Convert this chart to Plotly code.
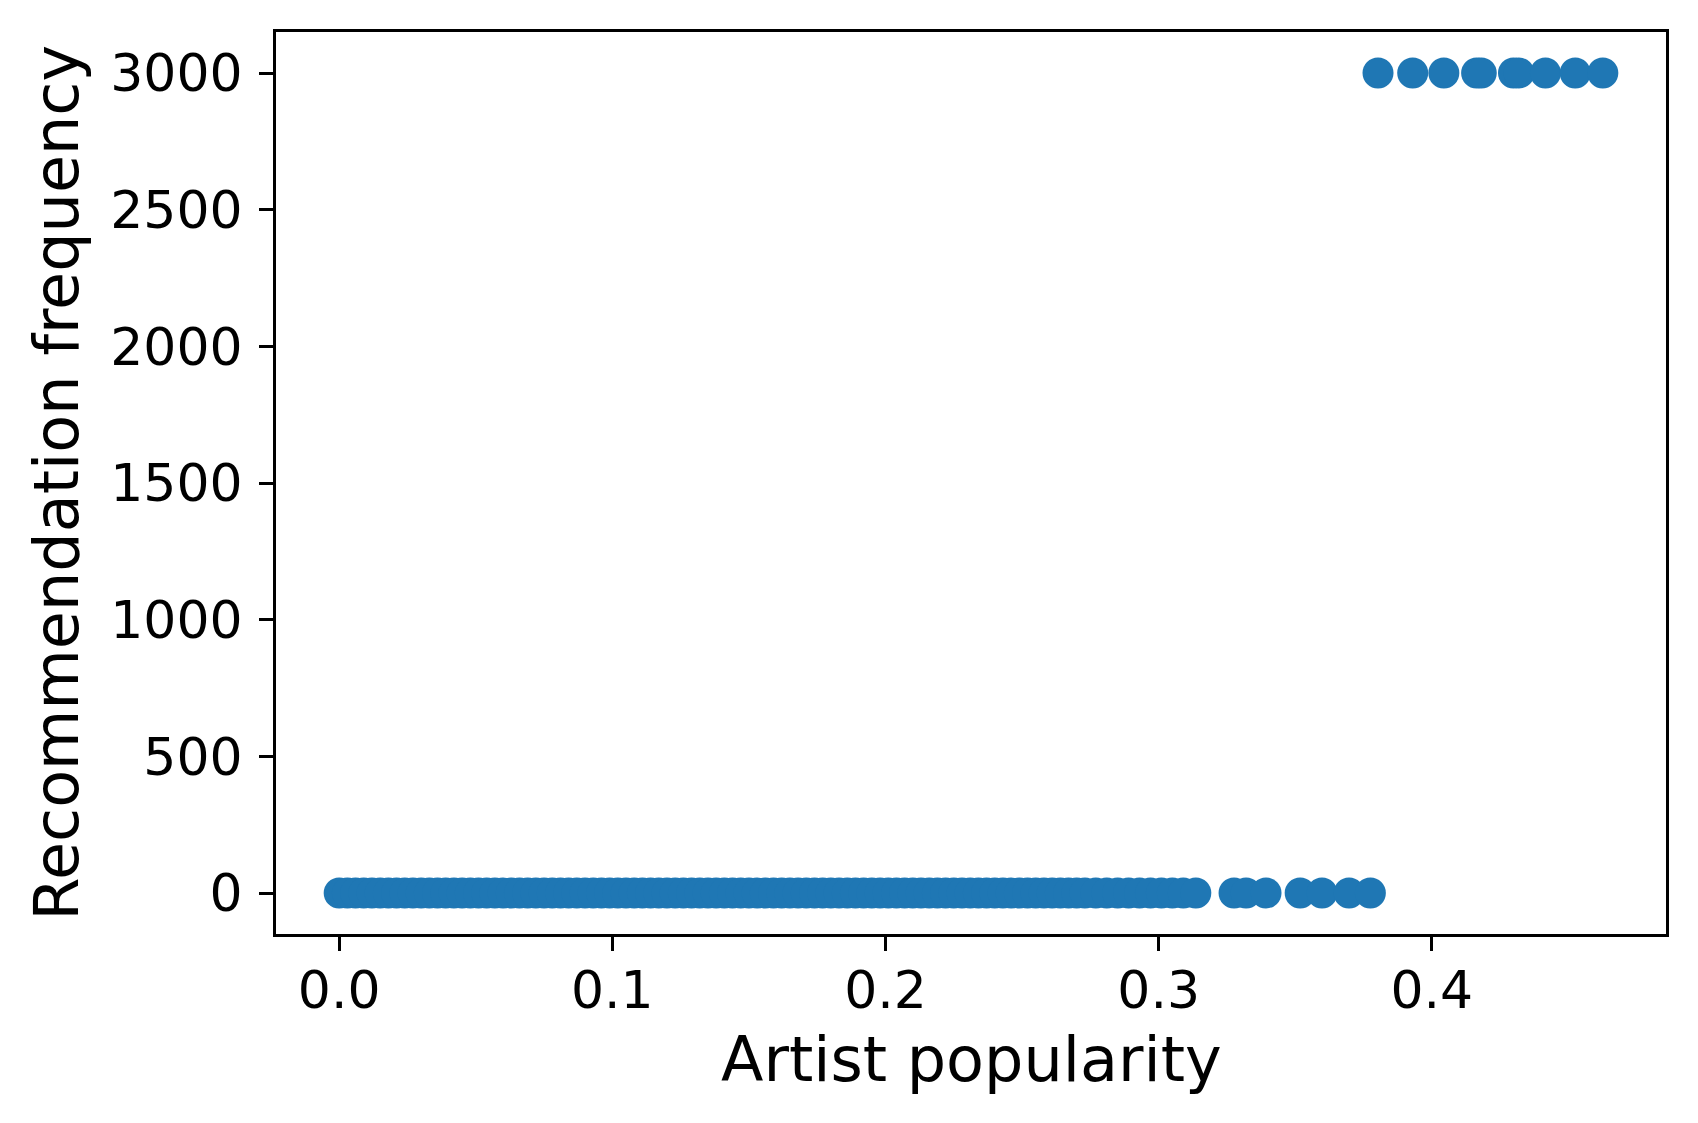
import plotly.graph_objects as go

# Artists recommended rarely (frequency ~0)
low_popularity = [0.000, 0.003, 0.006, 0.009, 0.012, 0.015, 0.018, 0.021, 0.024, 0.027,
                  0.030, 0.033, 0.036, 0.039, 0.042, 0.045, 0.048, 0.051, 0.054, 0.057,
                  0.060, 0.063, 0.066, 0.069, 0.072, 0.075, 0.078, 0.081, 0.084, 0.087,
                  0.090, 0.093, 0.096, 0.099, 0.102, 0.105, 0.108, 0.111, 0.114, 0.117,
                  0.120, 0.123, 0.126, 0.129, 0.132, 0.135, 0.138, 0.141, 0.144, 0.147,
                  0.150, 0.153, 0.156, 0.159, 0.162, 0.165, 0.168, 0.171, 0.174, 0.177,
                  0.180, 0.183, 0.186, 0.189, 0.192, 0.195, 0.198, 0.201, 0.204, 0.207,
                  0.210, 0.213, 0.216, 0.219, 0.222, 0.225, 0.228, 0.231, 0.234, 0.237,
                  0.240, 0.243, 0.246, 0.249, 0.252, 0.255, 0.258, 0.261, 0.264, 0.267,
                  0.270, 0.273, 0.277, 0.281, 0.285, 0.289, 0.293, 0.297, 0.301, 0.305,
                  0.309, 0.3136,
                  0.3276, 0.3320, 0.3393, 0.3518, 0.3598, 0.3697, 0.3775]
low_frequency = [0] * len(low_popularity)

# Artists recommended very often
high_popularity = [0.3803, 0.3930, 0.4044, 0.4164, 0.4181, 0.4299, 0.4319, 0.4416, 0.4525, 0.4626]
high_frequency = [3000] * len(high_popularity)

x_ticks = [0.0, 0.1, 0.2, 0.3, 0.4]
x_tick_labels = ["0.0", "0.1", "0.2", "0.3", "0.4"]
y_ticks = [0, 500, 1000, 1500, 2000, 2500, 3000]

popularity = low_popularity + high_popularity
frequency = low_frequency + high_frequency

FONT = "DejaVu Sans"
fig = go.Figure()
fig.add_trace(go.Scatter(
    x=popularity, y=frequency, mode="markers",
    marker=dict(size=31, color="#1f77b4", line=dict(width=0)),
    showlegend=False, hoverinfo="skip"))

xmin, xmax = min(popularity), max(popularity)
ymin, ymax = min(frequency), max(frequency)
xpad = (xmax - xmin) * 0.05
ypad = (ymax - ymin) * 0.05

axis_common = dict(showline=True, linecolor="black", linewidth=3, mirror=True,
                   ticks="outside", ticklen=14, tickwidth=3, tickcolor="black",
                   showgrid=False, zeroline=False,
                   tickfont=dict(family=FONT, size=52, color="black"))

fig.update_layout(
    width=1698, height=1123,
    paper_bgcolor="white", plot_bgcolor="white",
    margin=dict(l=268, r=40, t=24, b=197),
    xaxis=dict(range=[xmin - xpad, xmax + xpad], tickvals=x_ticks, ticktext=x_tick_labels,
               ticklabelstandoff=-5, **axis_common),
    yaxis=dict(range=[ymin - ypad, ymax + ypad], tickvals=y_ticks,
               ticklabelstandoff=6, **axis_common),
    annotations=[
        dict(text="Artist popularity", xref="paper", yref="paper", x=0.5, y=-0.1395,
             xanchor="center", yanchor="middle", showarrow=False,
             font=dict(family=FONT, size=62, color="black")),
        dict(text="Recommendation frequency", xref="paper", yref="paper", x=-0.158, y=0.5,
             xanchor="center", yanchor="middle", textangle=-90, showarrow=False,
             font=dict(family=FONT, size=62, color="black")),
    ],
)

fig.write_html("out.html")
